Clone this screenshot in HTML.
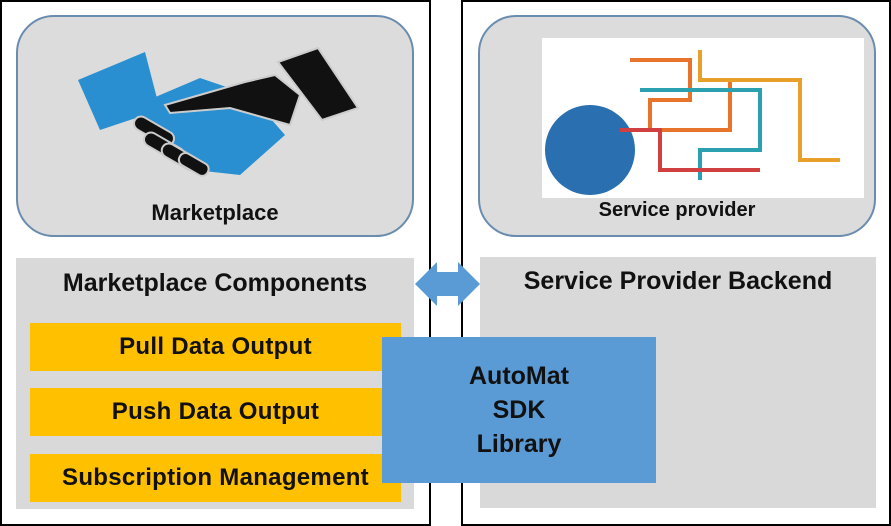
<!DOCTYPE html>
<html><head><style>
body{margin:0;width:891px;height:526px;background:#fff;position:relative;overflow:hidden;font-family:"Liberation Sans",sans-serif;font-weight:bold;color:#111}
div{position:absolute;box-sizing:border-box}
.t{text-align:center;white-space:nowrap}
.or{background:#ffc000;left:30px;width:371px;height:48px;font-size:24px;line-height:48px;letter-spacing:0.3px}
</style></head><body>
<div style="left:0;top:0;width:431px;height:526px;border:2px solid #000"></div>
<div style="left:461px;top:0;width:430px;height:526px;border:2px solid #000"></div>
<div style="left:16px;top:15px;width:398px;height:222px;border:2px solid #6a8caf;border-radius:38px;background:#dcdcdc"></div>
<div style="left:478px;top:15px;width:398px;height:222px;border:2px solid #6a8caf;border-radius:38px;background:#dcdcdc"></div>
<svg style="position:absolute;left:0;top:0" width="891" height="526">
<g fill="#2a8fd0"><polygon points="78,80 145,52 160,110 100,130"/><polygon points="125,110 200,78 250,95 285,135 240,175 195,170"/></g>
<g fill="#111" stroke="#ccc" stroke-width="2"><path d="M165,105 L245,82 L275,75 L300,95 L290,125 L230,108 L170,113Z"/><polygon points="278,62 318,48 358,108 322,120"/>
<rect x="132" y="124" width="44" height="14" rx="7" transform="rotate(30 154 131)"/><rect x="142" y="140" width="44" height="14" rx="7" transform="rotate(30 164 147)"/><rect x="160" y="150" width="40" height="14" rx="7" transform="rotate(30 180 157)"/><rect x="178" y="158" width="32" height="13" rx="6" transform="rotate(30 194 164)"/></g>
<rect x="542" y="38" width="322" height="160" fill="#fff"/>
<circle cx="590" cy="150" r="45" fill="#2a6fb0"/>
<g fill="none" stroke-width="4"><path d="M630,60 h60 v40 h-40 v30 h80 v-50 h50" stroke="#e8732a"/><path d="M640,90 h120 v60 h-60 v30" stroke="#2aa0b0"/><path d="M700,50 v30 h100 v80 h40" stroke="#e8a02a"/><path d="M620,130 h40 v40 h100" stroke="#d04040"/></g>
<polygon points="415,284 437,262 437,272 458,272 458,262 480,284 458,306 458,296 437,296 437,306" fill="#5b9bd5"/>
</svg>
<div class="t" style="left:16px;top:200px;width:398px;font-size:22px">Marketplace</div>
<div class="t" style="left:477px;top:199px;width:400px;font-size:20px">Service provider</div>
<div style="left:16px;top:258px;width:398px;height:251px;background:#d9d9d9"></div>
<div style="left:480px;top:257px;width:396px;height:251px;background:#d9d9d9"></div>
<div class="t" style="left:16px;top:269px;width:398px;font-size:25px">Marketplace Components</div>
<div class="t" style="left:480px;top:267px;width:396px;font-size:25px">Service Provider Backend</div>
<div class="or t" style="top:323px">Pull Data Output</div>
<div class="or t" style="top:388px">Push Data Output</div>
<div class="or t" style="top:454px">Subscription Management</div>
<div class="t" style="left:382px;top:337px;width:274px;height:146px;background:#5b9bd5;font-size:25px;line-height:34px;padding-top:22px">AutoMat<br>SDK<br>Library</div>
</body></html>
